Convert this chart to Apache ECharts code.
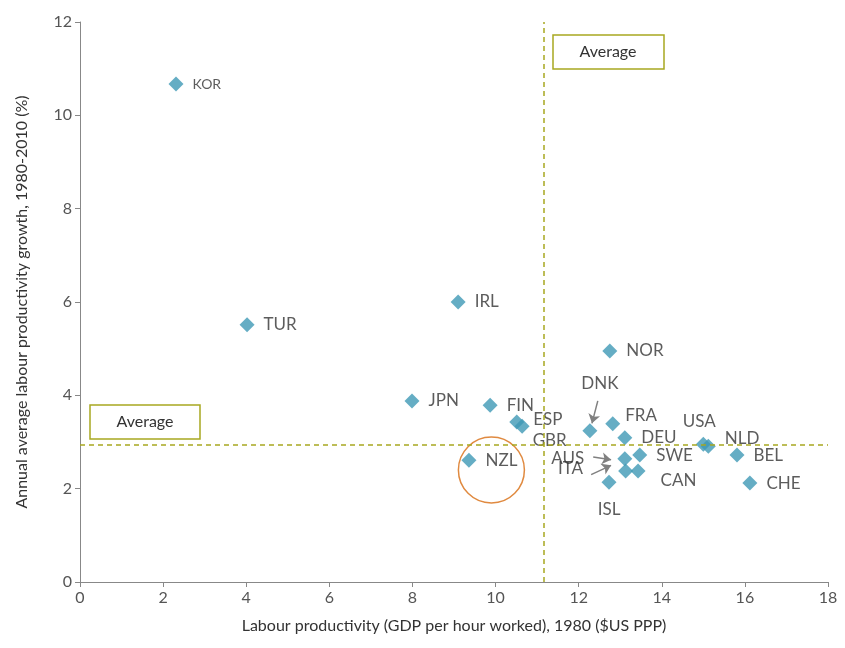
<!DOCTYPE html>
<html>
<head>
<meta charset="UTF-8">
<script src="https://cdn.jsdelivr.net/npm/echarts@6/dist/echarts.min.js"></script>
</head>
<body style="margin:0">
<div id="chart" style="width:845px;height:648px"></div>
<script>
var countries = ['KOR','TUR','IRL','JPN','FIN','ESP','GBR','NZL','DNK','FRA','DEU','NOR','AUS','SWE','ITA','CAN','ISL','USA','NLD','BEL','CHE'];
var level1980 = [2.31,4.02,9.10,7.99,9.87,10.51,10.64,9.36,12.27,12.82,13.11,12.75,13.11,13.47,13.13,13.43,12.73,15.0,15.12,15.81,16.12];
var growth = [10.67,5.51,6.0,3.88,3.79,3.43,3.34,2.61,3.24,3.39,3.09,4.95,2.64,2.72,2.38,2.38,2.14,2.95,2.91,2.72,2.12];
var avgLevel = 11.15, avgGrowth = 2.95;

// label placement per country (offsets in px)
var labelPos = {
  KOR: ['right', [4,0], 14],
  GBR: ['right', [-2,14]],
  DNK: ['top', [10,-26]],
  FRA: ['right', [0,-8]],
  AUS: ['left', [-28,0]],
  ITA: ['left', [-30,-2]],
  ISL: ['bottom', [0,6]],
  CAN: ['right', [10,10]],
  SWE: ['right', [4,0]],
  USA: ['top', [-4,-2]],
  NLD: ['right', [4,-8]],
  ESP: ['right', [4,-2]]
};

var pts = countries.map(function(c, i) {
  var p = labelPos[c] || ['right', [4,0]];
  return {
    name: c,
    value: [level1980[i], growth[i]],
    label: {show: true, position: p[0], offset: p[1], formatter: c, fontSize: p[2] || 17, color: '#333'}
  };
});

var arrowStyle = {color: '#808080', width: 1.5, type: 'solid'};
var chart = echarts.init(document.getElementById('chart'));
chart.setOption({
  animation: false,
  textStyle: {fontFamily: 'Lato'},
  grid: {left: 80, right: 17, top: 22, bottom: 66},
  xAxis: {
    min: 0, max: 18, interval: 2,
    name: 'Labour productivity (GDP per hour worked), 1980 ($US PPP)',
    nameLocation: 'middle', nameGap: 36,
    nameTextStyle: {fontSize: 16, color: '#333'},
    axisLine: {onZero: false, lineStyle: {color: '#888'}},
    axisTick: {lineStyle: {color: '#888'}},
    axisLabel: {fontSize: 16, color: '#555'},
    splitLine: {show: false}
  },
  yAxis: {
    min: 0, max: 12, interval: 2,
    name: 'Annual average labour productivity growth, 1980-2010 (%)',
    nameLocation: 'middle', nameGap: 50,
    nameTextStyle: {fontSize: 16, color: '#333'},
    axisLine: {show: true, lineStyle: {color: '#888'}},
    axisTick: {show: true, lineStyle: {color: '#888'}},
    axisLabel: {fontSize: 16, color: '#555'},
    splitLine: {show: false}
  },
  series: [
    {
      type: 'scatter', symbol: 'circle', symbolSize: 66, silent: true, z: 1,
      itemStyle: {color: 'none', borderColor: '#e08a40', borderWidth: 1.5, opacity: 1},
      emphasis: {disabled: true},
      data: [[9.9, 2.4]],
      markLine: {
        silent: true, symbol: ['none', 'arrow'], symbolSize: 9, label: {show: false},
        lineStyle: arrowStyle,
        data: [
          [{coord: [12.46, 3.88]}, {coord: [12.32, 3.4]}],
          [{coord: [12.35, 2.68]}, {coord: [12.78, 2.62]}],
          [{coord: [12.3, 2.3]}, {coord: [12.78, 2.5]}]
        ]
      }
    },
    {
      type: 'scatter', symbol: 'diamond', symbolSize: 15, z: 3,
      itemStyle: {color: '#3f98b5'},
      data: pts,
      markLine: {
        silent: true, symbol: 'none', label: {show: false},
        lineStyle: {color: '#a8a820', type: [5,4], width: 1.5},
        data: [
          [{coord: [avgLevel, 0]}, {coord: [avgLevel, 12]}],
          [{coord: [0, avgGrowth]}, {coord: [18, avgGrowth]}]
        ]
      }
    }
  ],
  graphic: [
    {type: 'rect', shape: {x: 553, y: 35, width: 111, height: 34}, style: {fill: '#fff', stroke: '#a8a820', lineWidth: 1.5}},
    {type: 'text', x: 608, y: 52, style: {text: 'Average', fontSize: 16, fill: '#333', align: 'center', verticalAlign: 'middle', fontFamily: 'Lato'}},
    {type: 'rect', shape: {x: 90, y: 405, width: 110, height: 34}, style: {fill: '#fff', stroke: '#a8a820', lineWidth: 1.5}},
    {type: 'text', x: 145, y: 422, style: {text: 'Average', fontSize: 16, fill: '#333', align: 'center', verticalAlign: 'middle', fontFamily: 'Lato'}}
  ]
});
</script>
</body>
</html>
